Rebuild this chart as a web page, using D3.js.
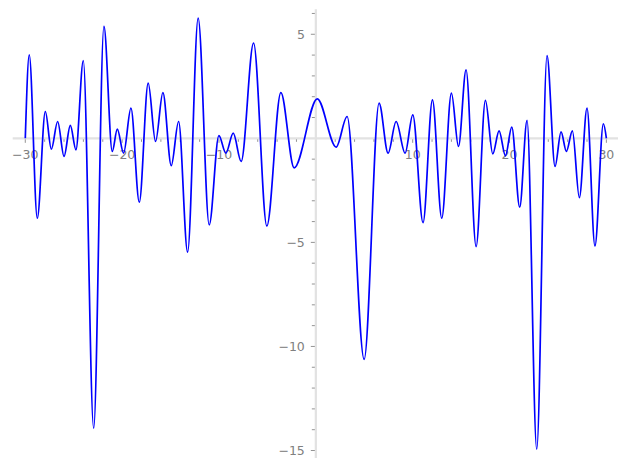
<!DOCTYPE html>
<html>
<head>
<meta charset="utf-8">
<script src="https://cdn.jsdelivr.net/npm/d3@7"></script>
<style>
  body { margin: 0; background: #fff; }
  text { font-family: "DejaVu Sans", sans-serif; }
</style>
</head>
<body>
<div id="plot"></div>
<script>
// curve: extrema (and the two end points)
var xVals = [-30, -29.59, -28.76, -27.93, -27.31, -26.66, -26.0, -25.35, -24.77, -24.01,
  -22.94, -21.88, -21.02, -20.5, -19.85, -19.09, -18.23, -17.31, -16.55, -15.79,
  -14.93, -14.17, -13.24, -12.15, -11.01, -10.01, -9.29, -8.53, -7.71,
  -6.43, -5.06, -3.61, -2.24, 0.15,
  2.1, 3.23, 4.99, 6.53, 7.46,
  8.29, 9.22, 10.01, 11.07, 12.04, 13.0, 14.0, 14.73, 15.51,
  16.55, 17.51, 18.27, 18.92, 19.58, 20.23, 21.05, 21.81, 22.81,
  23.87, 24.7, 25.32, 25.87, 26.49, 27.21, 28.0, 28.82, 29.69, 30];
var yVals = [0, 4.01, -3.84, 1.29, -0.52, 0.81, -0.87, 0.62, -0.55, 3.74,
  -13.93, 5.38, -0.63, 0.44, -0.71, 1.45, -3.07, 2.65, -0.15, 2.2,
  -1.31, 0.81, -5.47, 5.78, -4.16, 0.13, -0.71, 0.25, -1.11,
  4.58, -4.21, 2.2, -1.42, 1.9,
  -0.42, 1.05, -10.62, 1.69, -0.71,
  0.81, -0.71, 1.13, -4.05, 1.85, -3.84, 2.17, -0.39, 3.29,
  -5.2, 1.82, -0.75, 0.36, -0.84, 0.54, -3.31, 0.86, -14.94,
  3.97, -1.35, 0.31, -0.63, 0.36, -2.85, 1.45, -5.17, 0.7, 0];

var xMajor = [-30, -20, -10, 10, 20, 30];
var yMajor = [5, -5, -10, -15];

var W = 627, H = 468;
var svg = d3.select("#plot").append("svg")
  .attr("width", W).attr("height", H);

var x = d3.scaleLinear().domain([-31.3, 31.2]).range([12.7, 618]);
var y = d3.scaleLinear().domain([-15.36, 6.2]).range([458, 9.3]);

var x0 = x(0), y0 = y(0);
var tickCol = "#777", labCol = "#808080";

// axis lines
svg.append("line")
  .attr("x1", x.range()[0]).attr("x2", x.range()[1])
  .attr("y1", y0).attr("y2", y0)
  .attr("stroke", "#e2e2e2").attr("stroke-width", 2.2);
svg.append("line")
  .attr("x1", x0).attr("x2", x0)
  .attr("y1", y.range()[1]).attr("y2", y.range()[0])
  .attr("stroke", "#e2e2e2").attr("stroke-width", 2.2);

// minor ticks
var xMinor = d3.range(-30, 31, 2).filter(function(v){ return v % 10 != 0; });
var yMinor = d3.range(-15, 7, 1).filter(function(v){ return v % 5 != 0; });

svg.selectAll(".xminor").data(xMinor).enter().append("line")
  .attr("x1", function(d){ return x(d); }).attr("x2", function(d){ return x(d); })
  .attr("y1", y0 + 1).attr("y2", y0 + 3.5)
  .attr("stroke", tickCol).attr("stroke-width", 0.8);
svg.selectAll(".yminor").data(yMinor).enter().append("line")
  .attr("x1", x0 - 4).attr("x2", x0 - 1)
  .attr("y1", function(d){ return y(d); }).attr("y2", function(d){ return y(d); })
  .attr("stroke", tickCol).attr("stroke-width", 0.8);

// major ticks + labels
svg.selectAll(".xmajor").data(xMajor).enter().append("line")
  .attr("x1", function(d){ return x(d); }).attr("x2", function(d){ return x(d); })
  .attr("y1", y0 + 1).attr("y2", y0 + 4.5)
  .attr("stroke", tickCol).attr("stroke-width", 0.8);
svg.selectAll(".ymajor").data(yMajor).enter().append("line")
  .attr("x1", x0 - 5).attr("x2", x0 - 1)
  .attr("y1", function(d){ return y(d); }).attr("y2", function(d){ return y(d); })
  .attr("stroke", tickCol).attr("stroke-width", 0.8);

var fmt = d3.format("d");
svg.selectAll(".xlab").data(xMajor).enter().append("text")
  .attr("x", function(d){ return x(d); })
  .attr("y", y0 + 21)
  .attr("text-anchor", "middle")
  .attr("font-size", 12.5).attr("fill", labCol)
  .text(function(d){ return fmt(d); });
svg.selectAll(".ylab").data(yMajor).enter().append("text")
  .attr("x", x0 - 11)
  .attr("y", function(d){ return y(d); })
  .attr("dy", "0.36em")
  .attr("text-anchor", "end")
  .attr("font-size", 12.5).attr("fill", labCol)
  .text(function(d){ return fmt(d); });

// the curve
var pts = xVals.map(function(v, i){ return [v, yVals[i]]; });
var line = d3.line()
  .x(function(d){ return x(d[0]); })
  .y(function(d){ return y(d[1]); })
  .curve(d3.curveMonotoneX);

svg.append("path")
  .datum(pts)
  .attr("d", line)
  .attr("fill", "none")
  .attr("stroke", "#0000ff")
  .attr("stroke-width", 1.7);
</script>
</body>
</html>
